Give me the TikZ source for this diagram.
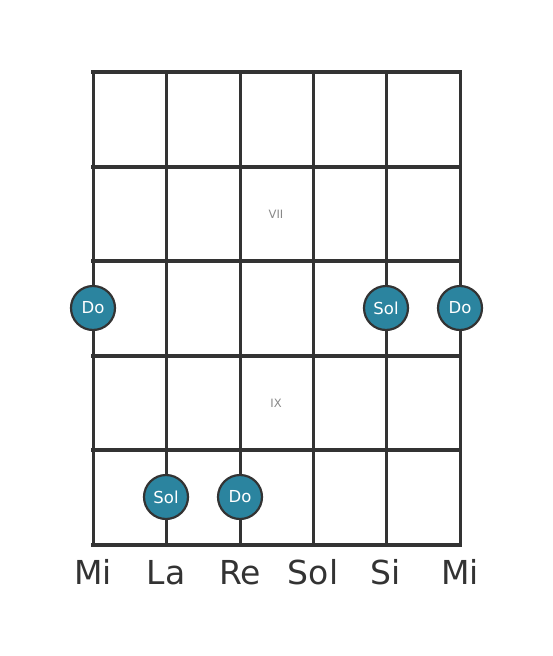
\documentclass[tikz,border=0pt]{standalone}
\usepackage{fontspec}
\setmainfont{DejaVu Sans}
\definecolor{gridc}{HTML}{333333}
\definecolor{notec}{HTML}{2B849F}
\definecolor{romc}{HTML}{888888}
\begin{document}
\begin{tikzpicture}[x=1pt,y=-1pt,
  fret/.style={draw=gridc,line width=4.5pt},
  strg/.style={draw=gridc,line width=3pt},
  note/.style={circle,fill=notec,draw=gridc,line width=2.2pt,minimum size=44pt,inner sep=0pt,text=white,font=\fontsize{16.5}{16.5}\selectfont},
  strname/.style={anchor=base,text=gridc,font=\fontsize{33}{33}\selectfont},
  roman/.style={text=romc,font=\fontsize{11.5}{11.5}\selectfont}]
\useasboundingbox (0,0) rectangle (553,656);
% strings
\foreach \x/\n in {93/s1,166/s2,240/s3,313/s4,386/s5,460/s6}{
  \coordinate (\n t) at (\x,72);
  \coordinate (\n b) at (\x,545);
  \draw[strg] (\n t) -- (\n b);
}
% frets
\foreach \y/\n in {72/f0,167/f1,261/f2,356/f3,450/f4,545/f5}{
  \coordinate (\n l) at (93,\y);
  \coordinate (\n r) at (460,\y);
  \draw[fret,line cap=rect] (\n l) -- (\n r);
}
\node[roman] (vii) at (276,214) {VII};
\node[roman] (ix) at (276,403) {IX};
\node[note] (n1) at (93,308) {Do};
\node[note] (n2) at (386,308) {Sol};
\node[note] (n3) at (460,308) {Do};
\node[note] (n4) at (166,497) {Sol};
\node[note] (n5) at (240,497) {Do};
\node[strname] (l1) at (93,584) {Mi};
\node[strname] (l2) at (166,584) {La};
\node[strname] (l3) at (240,584) {Re};
\node[strname] (l4) at (313,584) {Sol};
\node[strname] (l5) at (386,584) {Si};
\node[strname] (l6) at (460,584) {Mi};
\end{tikzpicture}
\end{document}
